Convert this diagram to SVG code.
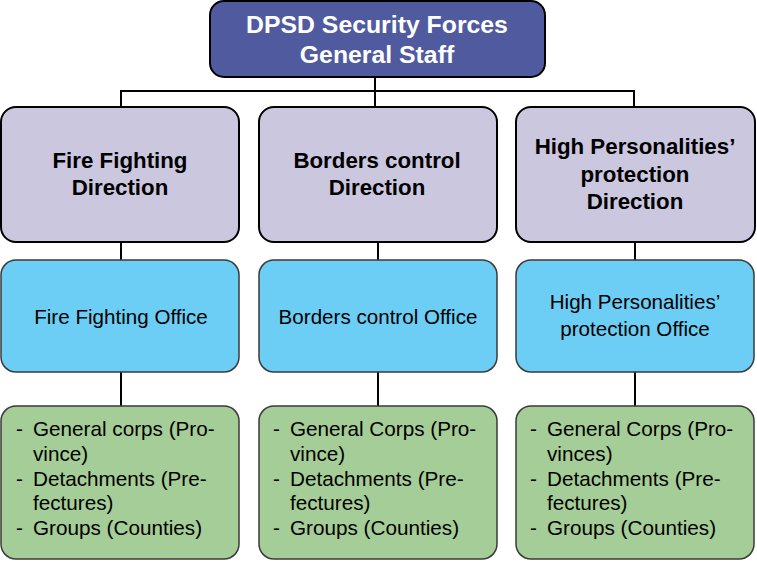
<svg xmlns="http://www.w3.org/2000/svg" width="757" height="562" viewBox="0 0 757 562">
<style>
text{font-family:"Liberation Sans",Arial,sans-serif;}
.top{fill:#505A9E;stroke:#000;stroke-width:2;}
.dir{fill:#CBC7DF;stroke:#000;stroke-width:2;}
.off{fill:#6CCDF5;stroke:#3a3a3a;stroke-width:1.5;}
.grp{fill:#A5CD97;stroke:#3a3a3a;stroke-width:1.5;}
.t1{font-size:24.8px;font-weight:bold;fill:#fff;text-anchor:middle;}
.t2{font-size:22.3px;font-weight:bold;fill:#000;text-anchor:middle;}
.t3{font-size:20.6px;fill:#000;text-anchor:middle;}
.t4{font-size:20.7px;fill:#000;}
.conn{stroke:#000;stroke-width:2;fill:none;}
</style>
<rect width="757" height="562" fill="#fff"/>
<g id="connectors">
<path class="conn" d="M375,77 V107 M121,107 V91 H634 V107"/>
<path class="conn" d="M121,242 V260 M121,372 V406"/>
<path class="conn" d="M378,242 V260 M378,372 V406"/>
<path class="conn" d="M635,242 V260 M635,372 V406"/>
</g>
<g id="general-staff">
<rect class="top" x="210" y="1" width="335" height="76" rx="14"/>
<text class="t1" x="377" y="33">DPSD Security Forces</text>
<text class="t1" x="377" y="63">General Staff</text>
</g>
<g id="fire-direction">
<rect class="dir" x="1" y="107" width="238" height="135" rx="15"/>
<text class="t2" x="120" y="168">Fire Fighting</text>
<text class="t2" x="120" y="195">Direction</text>
</g>
<g id="borders-direction">
<rect class="dir" x="259" y="107" width="238" height="135" rx="15"/>
<text class="t2" x="377" y="168">Borders control</text>
<text class="t2" x="377" y="195">Direction</text>
</g>
<g id="hp-direction">
<rect class="dir" x="516" y="107" width="239" height="135" rx="15"/>
<text class="t2" x="635" y="154">High Personalities’</text>
<text class="t2" x="635" y="182">protection</text>
<text class="t2" x="635" y="209">Direction</text>
</g>
<g id="fire-office">
<rect class="off" x="1" y="260" width="238" height="112" rx="15"/>
<text class="t3" x="121" y="324">Fire Fighting Office</text>
</g>
<g id="borders-office">
<rect class="off" x="259" y="260" width="238" height="112" rx="15"/>
<text class="t3" x="378" y="324">Borders control Office</text>
</g>
<g id="hp-office">
<rect class="off" x="516" y="260" width="238" height="112" rx="15"/>
<text class="t3" x="635" y="309">High Personalities’</text>
<text class="t3" x="635" y="336">protection Office</text>
</g>
<g id="fire-units">
<rect class="grp" x="1" y="406" width="238" height="153" rx="15"/>
<text class="t4"><tspan x="16" y="436">-</tspan><tspan x="33" y="436">General corps (Pro-</tspan><tspan x="33" y="461">vince)</tspan><tspan x="16" y="486">-</tspan><tspan x="33" y="486">Detachments (Pre-</tspan><tspan x="33" y="510">fectures)</tspan><tspan x="16" y="535">-</tspan><tspan x="33" y="535">Groups (Counties)</tspan></text>
</g>
<g id="borders-units">
<rect class="grp" x="259" y="406" width="238" height="153" rx="15"/>
<text class="t4"><tspan x="273" y="436">-</tspan><tspan x="290" y="436">General Corps (Pro-</tspan><tspan x="290" y="461">vince)</tspan><tspan x="273" y="486">-</tspan><tspan x="290" y="486">Detachments (Pre-</tspan><tspan x="290" y="510">fectures)</tspan><tspan x="273" y="535">-</tspan><tspan x="290" y="535">Groups (Counties)</tspan></text>
</g>
<g id="hp-units">
<rect class="grp" x="516" y="406" width="238" height="153" rx="15"/>
<text class="t4"><tspan x="530" y="436">-</tspan><tspan x="547" y="436">General Corps (Pro-</tspan><tspan x="547" y="461">vinces)</tspan><tspan x="530" y="486">-</tspan><tspan x="547" y="486">Detachments (Pre-</tspan><tspan x="547" y="510">fectures)</tspan><tspan x="530" y="535">-</tspan><tspan x="547" y="535">Groups (Counties)</tspan></text>
</g>
</svg>
